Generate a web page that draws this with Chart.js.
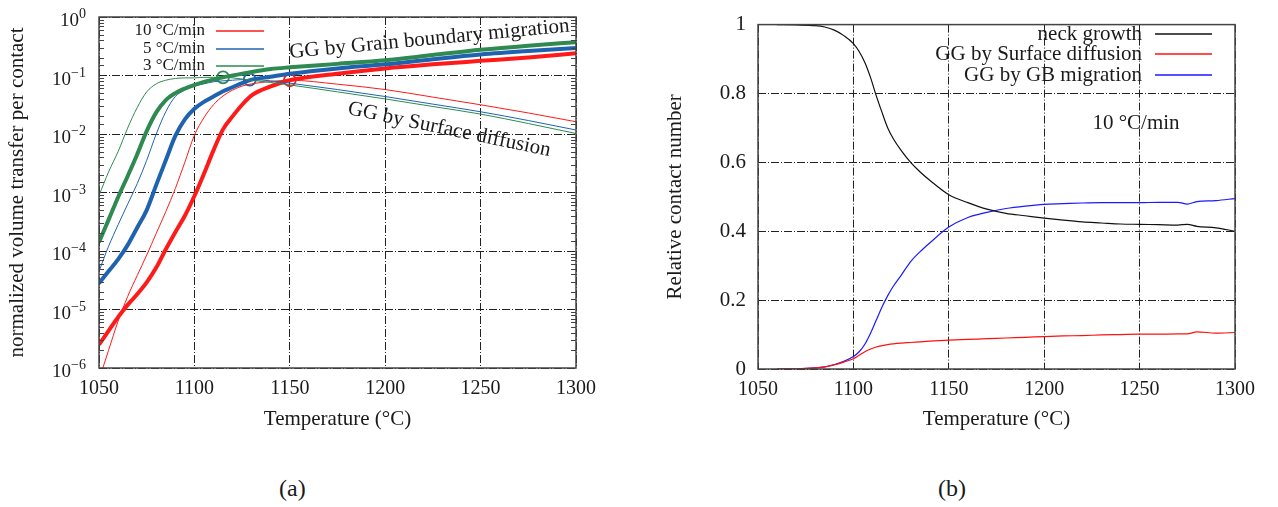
<!DOCTYPE html>
<html>
<head>
<meta charset="utf-8">
<script src="https://cdn.jsdelivr.net/npm/chart.js@4.4.1/dist/chart.umd.min.js"></script>
<style>
  body { margin: 0; background: #fff; width: 1278px; height: 507px; position: relative; overflow: hidden;
         font-family: "Liberation Serif", "DejaVu Serif", serif; color: #1a1a1a; }
  canvas { position: absolute; top: 0; }
  #volumeChart { left: 0; }
  #contactChart { left: 640px; }
  .cap { position: absolute; top: 474px; font-size: 24px; line-height: 28px; }
</style>
</head>
<body>
<canvas id="volumeChart" width="640" height="450"></canvas>
<canvas id="contactChart" width="638" height="450"></canvas>
<div class="cap" style="left:279px">(a)</div>
<div class="cap" style="left:938px">(b)</div>
<script>
// ---- (a) volume transfer per contact, log scale ----
const tempA = [1050, 1055, 1060, 1065, 1070, 1075, 1080, 1085, 1090, 1095, 1100, 1105, 1110,
               1115, 1120, 1125, 1130, 1140, 1150, 1175, 1200, 1225, 1250, 1275, 1300];

// grain boundary migration (thick) and surface diffusion (thin) for each heating rate
const gb10 = [2.5e-6, 4.3e-6, 7.4e-6, 1.2e-5, 1.82e-5, 2.9e-5, 5.2e-5, 1.07e-4, 2.1e-4, 4.0e-4, 8.7e-4, 2.09e-3, 5.25e-3,
              1.2e-2, 2.0e-2, 3.16e-2, 4.57e-2, 6.5e-2, 8.3e-2, 0.107, 0.132, 0.155, 0.178, 0.204, 0.24];
const sd10 = [6.3e-7, 2.0e-6, 6.3e-6, 1.66e-5, 3.8e-5, 8.5e-5, 2.0e-4, 4.7e-4, 1.17e-3, 3.3e-3, 9.5e-3, 1.9e-2, 3.16e-2,
              4.47e-2, 5.62e-2, 6.6e-2, 7.2e-2, 7.9e-2, 8.3e-2, 7.1e-2, 5.75e-2, 4.27e-2, 3.16e-2, 2.29e-2, 1.62e-2];
const gb5 = [2.8e-5, 4.5e-5, 7.2e-5, 1.26e-4, 2.5e-4, 5.0e-4, 1.35e-3, 3.55e-3, 9.3e-3, 1.78e-2, 2.7e-2, 3.55e-2, 4.37e-2,
             5.37e-2, 6.3e-2, 7.4e-2, 8.5e-2, 9.5e-2, 0.107, 0.132, 0.155, 0.19, 0.229, 0.263, 0.295];
const sd5 = [4.5e-5, 1.2e-4, 2.8e-4, 6.3e-4, 1.41e-3, 3.55e-3, 1.0e-2, 2.4e-2, 4.37e-2, 5.62e-2, 6.6e-2, 7.2e-2, 7.8e-2,
             8.1e-2, 8.3e-2, 8.5e-2, 8.5e-2, 8.1e-2, 7.4e-2, 5.75e-2, 4.37e-2, 3.24e-2, 2.4e-2, 1.7e-2, 1.17e-2];
const gb3 = [1.41e-4, 3.4e-4, 8.3e-4, 1.9e-3, 4.47e-3, 1.12e-2, 2.34e-2, 3.8e-2, 5.0e-2, 6.0e-2, 6.9e-2, 7.8e-2, 8.5e-2,
             9.3e-2, 0.1, 0.107, 0.115, 0.129, 0.138, 0.158, 0.182, 0.224, 0.275, 0.324, 0.372];
const sd3 = [8.9e-4, 2.24e-3, 5.0e-3, 1.26e-2, 2.82e-2, 5.25e-2, 7.2e-2, 8.3e-2, 8.9e-2, 9.1e-2, 9.1e-2, 9.3e-2, 9.3e-2,
             9.3e-2, 9.1e-2, 8.7e-2, 8.3e-2, 7.6e-2, 6.9e-2, 5.25e-2, 3.98e-2, 2.95e-2, 2.19e-2, 1.51e-2, 1.02e-2];

// where the two mechanisms cross, per rate (10, 5, 3 °C/min)
const crossTemp = [1150, 1129, 1115];
const crossValue = [8.3e-2, 8.5e-2, 9.3e-2];

const rateLabels = ['10 °C/min', '5 °C/min', '3 °C/min'];
const rateColors = ['#ff1a1a', '#1f63b0', '#2e8a50'];
const yTickPowers = [0, -1, -2, -3, -4, -5, -6];
const xTicks = [1050, 1100, 1150, 1200, 1250, 1300];

// ---- (b) relative contact number at 10 °C/min ----
const tempB = [1060, 1070, 1080, 1085, 1090, 1095, 1100, 1103, 1106, 1109, 1112, 1115, 1118, 1121, 1125, 1130, 1135,
               1140, 1150, 1160, 1170, 1180, 1190, 1200, 1210, 1220, 1230, 1240, 1250, 1260, 1270, 1275, 1280, 1290, 1300];
const neckGrowth = [1.0, 0.999, 0.997, 0.993, 0.984, 0.968, 0.945, 0.922, 0.89, 0.846, 0.793, 0.745, 0.70, 0.668, 0.635,
                    0.6, 0.572, 0.548, 0.506, 0.483, 0.464, 0.452, 0.445, 0.438, 0.432, 0.427, 0.424, 0.421, 0.42,
                    0.419, 0.418, 0.42, 0.414, 0.41, 0.40];
const surfaceGG = [0.0, 0.0005, 0.003, 0.006, 0.012, 0.02, 0.03, 0.04, 0.05, 0.058, 0.064, 0.068, 0.071, 0.073, 0.075,
                   0.077, 0.079, 0.081, 0.084, 0.086, 0.088, 0.09, 0.092, 0.094, 0.096, 0.097, 0.099, 0.1, 0.101,
                   0.101, 0.102, 0.102, 0.108, 0.104, 0.106];
const gbGG = [0.0, 0.0005, 0.003, 0.006, 0.013, 0.022, 0.036, 0.05, 0.072, 0.104, 0.142, 0.18, 0.213, 0.241, 0.272,
              0.312, 0.341, 0.366, 0.412, 0.44, 0.455, 0.466, 0.473, 0.478, 0.48, 0.482, 0.483, 0.483, 0.483,
              0.484, 0.484, 0.479, 0.486, 0.489, 0.495];
const contactLabels = ['neck growth', 'GG by Surface diffusion', 'GG by GB migration'];
const contactColors = ['#111111', '#ff1010', '#1a1aff'];

const serif = '"Liberation Serif", "DejaVu Serif", serif';
const ink = '#1a1a1a';
const gridDash = [8, 2, 1, 2];

Chart.defaults.font.family = serif;
Chart.defaults.color = ink;

const pts = (xs, ys) => xs.map((x, i) => ({ x: x, y: ys[i] }));
const isDecade = v => Math.abs(Math.log10(v) - Math.round(Math.log10(v))) < 1e-6;

function curve(label, xs, ys, color, width) {
    return {
        label: label, data: pts(xs, ys), borderColor: color, backgroundColor: color,
        borderWidth: width, pointRadius: 0, cubicInterpolationMode: 'monotone', fill: false
    };
}

function drawFrame(chart) {
    const { ctx, chartArea: a } = chart;
    ctx.save();
    ctx.strokeStyle = '#444';
    ctx.lineWidth = 1.5;
    ctx.strokeRect(a.left, a.top, a.right - a.left, a.bottom - a.top);
    ctx.restore();
}

function drawKey(ctx, labels, colors, textRight, x0, x1, ys, fontSize, lineW) {
    ctx.save();
    ctx.font = fontSize + 'px ' + serif;
    ctx.textAlign = 'right';
    ctx.textBaseline = 'middle';
    labels.forEach((lab, i) => {
        ctx.fillStyle = ink;
        ctx.fillText(lab, textRight, ys[i]);
        ctx.strokeStyle = colors[i];
        ctx.lineWidth = lineW;
        ctx.beginPath();
        ctx.moveTo(x0, ys[i]);
        ctx.lineTo(x1, ys[i]);
        ctx.stroke();
    });
    ctx.restore();
}

function slantedText(ctx, text, x, y, deg, size) {
    ctx.save();
    ctx.translate(x, y);
    ctx.rotate(deg * Math.PI / 180);
    ctx.font = size + 'px ' + serif;
    ctx.fillStyle = ink;
    ctx.textAlign = 'left';
    ctx.textBaseline = 'alphabetic';
    ctx.fillText(text, 0, 0);
    ctx.restore();
}

// frame, minor log ticks, 10^n labels, key and mechanism labels for (a)
const volumeDecor = {
    id: 'volumeDecor',
    afterDatasetsDraw(chart) {
        const { ctx, chartArea: a } = chart;
        const ys = chart.scales.y;
        drawFrame(chart);

        ctx.save();
        ctx.strokeStyle = '#444';
        ctx.lineWidth = 1;
        ys.ticks.forEach(t => {
            if (isDecade(t.value)) return;
            const py = Math.round(ys.getPixelForValue(t.value)) + 0.5;
            ctx.beginPath();
            ctx.moveTo(a.left, py); ctx.lineTo(a.left + 5, py);
            ctx.moveTo(a.right - 5, py); ctx.lineTo(a.right, py);
            ctx.stroke();
        });
        ctx.restore();

        ctx.save();
        ctx.fillStyle = ink;
        ctx.textAlign = 'right';
        ctx.textBaseline = 'alphabetic';
        const right = a.left - 13;
        yTickPowers.forEach(p => {
            const py = ys.getPixelForValue(Math.pow(10, p));
            const sup = p === 0 ? '0' : '\u2212' + Math.abs(p);
            ctx.font = '14px ' + serif;
            const w = ctx.measureText(sup).width;
            ctx.fillText(sup, right, py + 1);
            ctx.font = '19px ' + serif;
            ctx.fillText('10', right - w, py + 9);
        });
        ctx.restore();

        drawKey(ctx, rateLabels, rateColors, 205, 216, 264, [31, 49, 66], 17, 1.5);
        slantedText(ctx, 'GG by Grain boundary migration', 290, 58, -5.4, 21);
        slantedText(ctx, 'GG by Surface diffusion', 347, 114, 11.8, 21);
    }
};

const contactDecor = {
    id: 'contactDecor',
    afterDatasetsDraw(chart) {
        const { ctx } = chart;
        drawFrame(chart);
        drawKey(ctx, contactLabels, contactColors, 502, 515, 572, [34, 54, 75], 21, 1.3);
        ctx.save();
        ctx.font = '21px ' + serif;
        ctx.fillStyle = ink;
        ctx.textAlign = 'center';
        ctx.textBaseline = 'alphabetic';
        ctx.fillText('10 °C/min', 496, 129);
        ctx.restore();
    }
};

const tickFont = { size: 20 };
const titleFont = { size: 21 };

// (a)
new Chart(document.getElementById('volumeChart').getContext('2d'), {
    type: 'line',
    data: {
        datasets: [
            curve('3 °C/min GB', tempA, gb3, rateColors[2], 4),
            curve('3 °C/min SD', tempA, sd3, rateColors[2], 1),
            curve('5 °C/min GB', tempA, gb5, rateColors[1], 4),
            curve('5 °C/min SD', tempA, sd5, rateColors[1], 1),
            curve('10 °C/min GB', tempA, gb10, rateColors[0], 4),
            curve('10 °C/min SD', tempA, sd10, rateColors[0], 1),
            {
                label: 'crossing', type: 'scatter', showLine: false,
                data: pts(crossTemp, crossValue),
                pointRadius: 6, pointBorderWidth: 1.8,
                pointBackgroundColor: 'rgba(255,255,255,0)',
                pointBorderColor: [rateColors[0], rateColors[1], rateColors[2]]
            }
        ]
    },
    options: {
        responsive: false,
        animation: false,
        layout: { padding: { top: 17, right: 64, left: 0, bottom: 0 } },
        plugins: { legend: { display: false }, tooltip: { enabled: false } },
        scales: {
            x: {
                type: 'linear', min: 1050, max: 1300,
                afterBuildTicks: s => { s.ticks = xTicks.map(v => ({ value: v })); },
                afterFit: s => { s.height = 82; },
                ticks: { font: tickFont, padding: 9, color: ink, callback: v => String(v) },
                grid: { color: '#222', lineWidth: 1, drawTicks: false },
                border: { display: false, dash: gridDash },
                title: { display: true, text: 'Temperature (°C)', font: titleFont, color: ink, padding: { top: 0, bottom: 18 } }
            },
            y: {
                type: 'logarithmic', min: 1e-6, max: 1,
                afterFit: s => { s.width = 99; },
                ticks: { display: false },
                grid: {
                    drawTicks: false, lineWidth: 1,
                    color: c => (c.tick && isDecade(c.tick.value)) ? '#222' : 'rgba(0,0,0,0)'
                },
                border: { display: false, dash: gridDash },
                title: { display: true, text: 'normalized volume transfer per contact', font: titleFont, color: ink, padding: { top: 5, bottom: 0 } }
            }
        }
    },
    plugins: [volumeDecor]
});

// (b)
new Chart(document.getElementById('contactChart').getContext('2d'), {
    type: 'line',
    data: {
        datasets: [
            curve(contactLabels[0], tempB, neckGrowth, contactColors[0], 1.2),
            curve(contactLabels[1], tempB, surfaceGG, contactColors[1], 1.2),
            curve(contactLabels[2], tempB, gbGG, contactColors[2], 1.2)
        ]
    },
    options: {
        responsive: false,
        animation: false,
        layout: { padding: { top: 17, right: 43, left: 0, bottom: 0 } },
        plugins: { legend: { display: false }, tooltip: { enabled: false } },
        scales: {
            x: {
                type: 'linear', min: 1050, max: 1300,
                afterBuildTicks: s => { s.ticks = xTicks.map(v => ({ value: v })); },
                afterFit: s => { s.height = 81; },
                ticks: { font: tickFont, padding: 9, color: ink, callback: v => String(v) },
                grid: { color: '#222', lineWidth: 1, drawTicks: false },
                border: { display: false, dash: gridDash },
                title: { display: true, text: 'Temperature (°C)', font: titleFont, color: ink, padding: { top: 0, bottom: 18 } }
            },
            y: {
                min: 0, max: 1,
                afterFit: s => { s.width = 118; },
                ticks: { font: { size: 21 }, padding: 12, color: ink, stepSize: 0.2,
                         callback: v => String(Number(v.toFixed(1))) },
                grid: { color: '#222', lineWidth: 1, drawTicks: false },
                border: { display: false, dash: gridDash },
                title: { display: true, text: 'Relative contact number', font: titleFont, color: ink, padding: { top: 23, bottom: 0 } }
            }
        }
    },
    plugins: [contactDecor]
});
</script>
</body>
</html>
